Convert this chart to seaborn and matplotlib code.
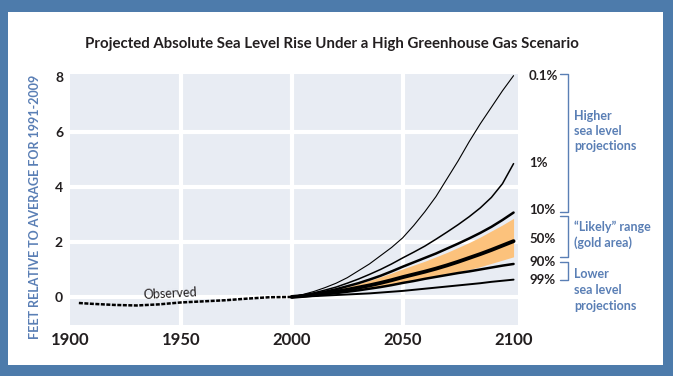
import numpy as np
import pandas as pd
import matplotlib
matplotlib.use("Agg")
import matplotlib.pyplot as plt
from matplotlib.patches import Rectangle
from matplotlib.lines import Line2D
import seaborn as sns

# ---------------- data ----------------
obs_years = [1904, 1910, 1920, 1930, 1940, 1950, 1960, 1970, 1980, 1990, 2000]
observed = [-0.22, -0.25, -0.29, -0.31, -0.27, -0.2, -0.16, -0.12, -0.06, -0.01, 0.0]

proj_years = [2000, 2005, 2010, 2015, 2020, 2025, 2030, 2035, 2040, 2045, 2050,
              2055, 2060, 2065, 2070, 2075, 2080, 2085, 2090, 2095, 2100]
p0_1 = [0, 0.09, 0.2, 0.34, 0.5, 0.7, 0.95, 1.2, 1.5, 1.8, 2.15,
        2.6, 3.1, 3.65, 4.3, 4.95, 5.65, 6.3, 6.9, 7.5, 8.05]
p1 = [0, 0.07, 0.15, 0.25, 0.36, 0.5, 0.65, 0.82, 1.0, 1.2, 1.42,
      1.63, 1.85, 2.1, 2.36, 2.63, 2.92, 3.24, 3.62, 4.12, 4.85]
p10 = [0, 0.05, 0.11, 0.19, 0.28, 0.39, 0.5, 0.63, 0.77, 0.93, 1.1,
       1.26, 1.42, 1.58, 1.76, 1.94, 2.13, 2.33, 2.55, 2.8, 3.07]
p50 = [0, 0.035, 0.075, 0.13, 0.19, 0.26, 0.34, 0.42, 0.51, 0.61, 0.72,
       0.82, 0.92, 1.03, 1.15, 1.28, 1.42, 1.56, 1.71, 1.87, 2.03]
p90 = [0, 0.03, 0.06, 0.1, 0.14, 0.19, 0.24, 0.3, 0.36, 0.43, 0.51,
       0.58, 0.66, 0.73, 0.8, 0.87, 0.93, 1.0, 1.07, 1.14, 1.2]
p99 = [0, 0.015, 0.03, 0.05, 0.07, 0.09, 0.11, 0.13, 0.16, 0.19, 0.22,
       0.26, 0.3, 0.34, 0.38, 0.42, 0.46, 0.5, 0.55, 0.59, 0.63]
likely_hi = [0, 0.05, 0.11, 0.19, 0.27, 0.37, 0.48, 0.6, 0.73, 0.87, 1.02,
             1.16, 1.3, 1.46, 1.62, 1.8, 1.98, 2.18, 2.4, 2.62, 2.86]
likely_lo = [0, 0.035, 0.07, 0.11, 0.16, 0.21, 0.27, 0.33, 0.4, 0.47, 0.55,
             0.62, 0.7, 0.77, 0.85, 0.92, 1.0, 1.1, 1.22, 1.34, 1.46]

series_names = ["0.1%", "1%", "10%", "50%", "90%", "99%"]
series_vals = [p0_1, p1, p10, p50, p90, p99]
label_y = [8.04, 4.87, 3.16, 2.1, 1.27, 0.62]

x_ticks = [1900, 1950, 2000, 2050, 2100]
y_ticks = [0, 2, 4, 6, 8]

title = "Projected Absolute Sea Level Rise Under a High Greenhouse Gas Scenario"
ylabel = "FEET RELATIVE TO AVERAGE FOR 1991-2009"

# ---------------- style ----------------
sns.set_style("white")
FAM = ["Lato", "DejaVu Sans"]
plt.rcParams["font.family"] = FAM

W, H = 673, 376
BLUE = "#4d7bab"
TXTBLUE = "#5a7fb5"
DARK = "#231f20"

fig = plt.figure(figsize=(W / 100, H / 100), dpi=100)
fig.patch.set_facecolor(BLUE)
fig.patches.append(Rectangle((8 / W, 11 / H), 655 / W, 353 / H,
                             transform=fig.transFigure, facecolor="white",
                             edgecolor="none", zorder=-5))

ax = fig.add_axes([70 / W, (H - 325) / H, 448 / W, 251 / H])
ax.set_zorder(2)
ax.set_facecolor("#e8ecf3")
for s in ax.spines.values():
    s.set_visible(False)

# white grid gaps
for xv in [1950, 2000, 2050]:
    ax.axvline(xv, color="white", lw=3.0, zorder=0.5)
for yv in [0, 2, 4, 6]:
    ax.axhline(yv, color="white", lw=3.0, zorder=0.5)

# likely range
ax.fill_between(proj_years, likely_lo, likely_hi, color="#fcc27c",
                lw=0, zorder=1)

widths = [0.8, 1.1, 1.8, 2.8, 1.8, 1.4]
for name, vals, lw in zip(series_names, series_vals, widths):
    df = pd.DataFrame({"year": proj_years, "ft": vals})
    sns.lineplot(data=df, x="year", y="ft", ax=ax, color="black", lw=lw,
                 zorder=3)

df_obs = pd.DataFrame({"year": obs_years, "ft": observed})
sns.lineplot(data=df_obs, x="year", y="ft", ax=ax, color="black", lw=1.8,
             linestyle=(0, (1.6, 0.6)), zorder=3)

ax.set_xlim(1900, 2102)
ax.set_ylim(-1.02, 8.11)
ax.set_xticks(x_ticks)
ax.set_yticks(y_ticks)
ax.set_xticklabels([str(v) for v in x_ticks], fontsize=12, fontweight="bold",
                   color=DARK)
ax.set_yticklabels([str(v) for v in y_ticks], fontsize=10, fontweight="bold",
                   color=DARK)
ax.tick_params(axis="both", length=0)
ax.tick_params(axis="x", pad=5)
ax.tick_params(axis="y", pad=5)
ax.set_xlabel("")
ax.set_ylabel("")

ax.text(1945, 0.12, "Observed", fontsize=9, color=DARK, ha="center",
        va="center", rotation=3, zorder=4)

for name, yv in zip(series_names, label_y):
    ax.text(2107, yv, name, fontsize=9.5, fontweight="bold", color=DARK,
            ha="left", va="center", clip_on=False)

fig.text(332 / W, 1 - 44 / H, title, fontsize=10.8, fontweight="bold",
         color=DARK, ha="center", va="center")
fig.text(35 / W, 1 - 207 / H, ylabel, rotation=90, fontsize=9,
         fontweight="bold", color=TXTBLUE, ha="center", va="center")


def bracket(y0, y1):
    xs = [560 / W, 568 / W, 568 / W, 560 / W]
    ys = [1 - y0 / H, 1 - y0 / H, 1 - y1 / H, 1 - y1 / H]
    fig.add_artist(Line2D(xs, ys, color=TXTBLUE, lw=1.0,
                          transform=fig.transFigure))


bracket(74, 212)
bracket(216, 257)
bracket(262, 280)

kw = dict(fontsize=9, fontweight="bold", color=TXTBLUE, ha="left",
          va="center", linespacing=1.35)
fig.text(574 / W, 1 - 131 / H, "Higher\nsea level\nprojections", **kw)
fig.text(574 / W, 1 - 235 / H, "\u201cLikely\u201d range\n(gold area)", **kw)
fig.text(574 / W, 1 - 290 / H, "Lower\nsea level\nprojections", **kw)

fig.savefig("out.png", dpi=100, facecolor=fig.get_facecolor())
